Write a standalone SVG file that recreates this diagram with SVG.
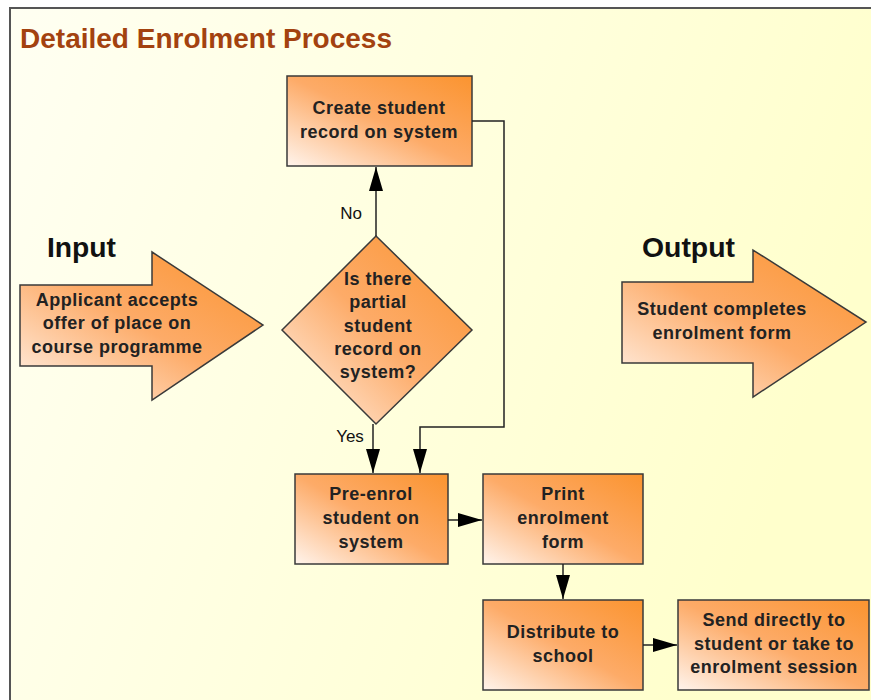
<svg xmlns="http://www.w3.org/2000/svg" width="871" height="700" viewBox="0 0 871 700">
<defs>
<linearGradient id="bg" x1="0" y1="0" x2="1" y2="0.3">
<stop offset="0" stop-color="#fffff2"/>
<stop offset="1" stop-color="#ffffcc"/>
</linearGradient>
<linearGradient id="og" x1="0" y1="1" x2="1" y2="0">
<stop offset="0" stop-color="#fff4ec"/>
<stop offset="0.5" stop-color="#fdab68"/>
<stop offset="1" stop-color="#fb9430"/>
</linearGradient>
<marker id="ah" viewBox="0 0 24 14" refX="24" refY="7" markerWidth="24" markerHeight="14" markerUnits="userSpaceOnUse" orient="auto">
<path d="M0,0 L24,7 L0,14 Z" fill="#000"/>
</marker>
</defs>
<style>
.sh{fill:url(#og);stroke:#3a3a3a;stroke-width:1.5}
.t{font-family:"Liberation Sans",Arial,sans-serif;font-weight:bold;font-size:18px;letter-spacing:0.5px;fill:#222;text-anchor:middle}
.lbl{font-family:"Liberation Sans",Arial,sans-serif;font-size:17px;fill:#111;text-anchor:middle}
.big{font-family:"Liberation Sans",Arial,sans-serif;font-weight:bold;font-size:28px;fill:#111}
.c{fill:none;stroke:#222;stroke-width:1.5}
</style>
<rect x="0" y="0" width="871" height="700" fill="#fff"/>
<rect x="10" y="8" width="870" height="700" fill="url(#bg)" stroke="#555" stroke-width="2"/>
<text x="20" y="48" font-family="Liberation Sans,Arial,sans-serif" font-weight="bold" font-size="27" fill="#a3420f" textLength="372" lengthAdjust="spacingAndGlyphs">Detailed Enrolment Process</text>

<g id="input">
<text class="big" x="47" y="257" textLength="69" lengthAdjust="spacingAndGlyphs">Input</text>
<path class="sh" d="M20,285 L152,285 L152,252 L263,325 L152,400 L152,366 L20,366 Z"/>
<text class="t" x="117" y="306">Applicant accepts</text>
<text class="t" x="117" y="329">offer of place on</text>
<text class="t" x="117" y="353">course programme</text>
</g>

<g id="output">
<text class="big" x="642" y="257" textLength="93" lengthAdjust="spacingAndGlyphs">Output</text>
<path class="sh" d="M622,282 L753,282 L753,250 L866,322 L753,397 L753,363 L622,363 Z"/>
<text class="t" x="722" y="315">Student completes</text>
<text class="t" x="722" y="339">enrolment form</text>
</g>

<g id="create">
<rect class="sh" x="287" y="76" width="185" height="90"/>
<text class="t" x="379" y="114">Create student</text>
<text class="t" x="379" y="138">record on system</text>
</g>

<g id="decision">
<path class="sh" d="M376,236 L472,330 L376,424 L282,330 Z"/>
<text class="t" x="378" y="285">Is there</text>
<text class="t" x="378" y="308">partial</text>
<text class="t" x="378" y="332">student</text>
<text class="t" x="378" y="355">record on</text>
<text class="t" x="378" y="378">system?</text>
</g>

<g id="preenrol">
<rect class="sh" x="295" y="474" width="153" height="90"/>
<text class="t" x="371" y="500">Pre-enrol</text>
<text class="t" x="371" y="524">student on</text>
<text class="t" x="371" y="548">system</text>
</g>

<g id="print">
<rect class="sh" x="483" y="474" width="160" height="90"/>
<text class="t" x="563" y="500">Print</text>
<text class="t" x="563" y="524">enrolment</text>
<text class="t" x="563" y="548">form</text>
</g>

<g id="distribute">
<rect class="sh" x="483" y="600" width="160" height="90"/>
<text class="t" x="563" y="638">Distribute to</text>
<text class="t" x="563" y="662">school</text>
</g>

<g id="send">
<rect class="sh" x="678" y="600" width="191" height="90"/>
<text class="t" x="774" y="626">Send directly to</text>
<text class="t" x="774" y="650">student or take to</text>
<text class="t" x="774" y="673">enrolment session</text>
</g>

<g id="connectors">
<path class="c" d="M376,236 L376,167" marker-end="url(#ah)"/>
<text class="lbl" x="351" y="219">No</text>
<path class="c" d="M373,424 L373,473" marker-end="url(#ah)"/>
<text class="lbl" x="350" y="442">Yes</text>
<path class="c" d="M472,121 L504,121 L504,427 L420,427 L420,473" marker-end="url(#ah)"/>
<path class="c" d="M448,520 L482,520" marker-end="url(#ah)"/>
<path class="c" d="M563,564 L563,599" marker-end="url(#ah)"/>
<path class="c" d="M643,645 L677,645" marker-end="url(#ah)"/>
</g>
</svg>
